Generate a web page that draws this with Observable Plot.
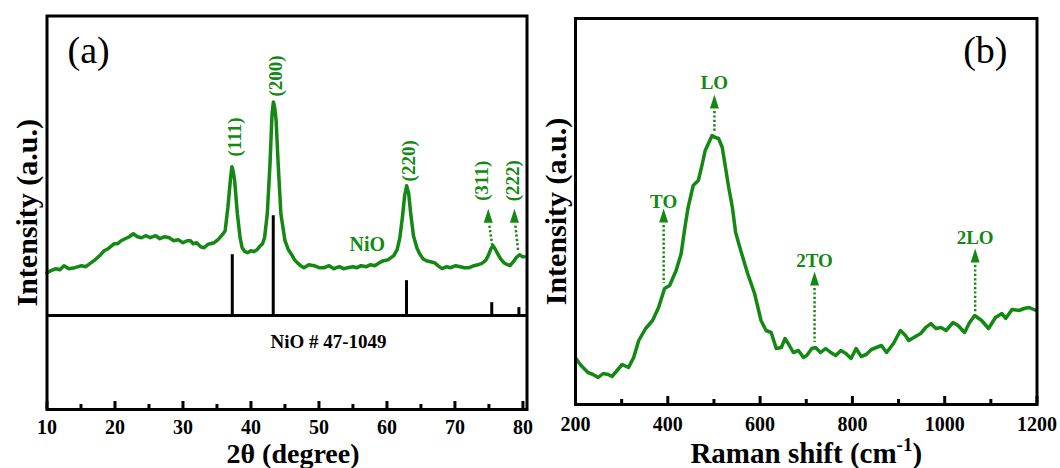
<!DOCTYPE html>
<html><head><meta charset="utf-8">
<script src="https://cdn.jsdelivr.net/npm/d3@7"></script>
<script src="https://cdn.jsdelivr.net/npm/@observablehq/plot@0.6"></script>
<style>
html,body{margin:0;padding:0;background:#fff;}
#wrap{position:relative;width:1060px;height:468px;overflow:hidden;}
#pa,#pb{position:absolute;top:0;width:530px;height:468px;}
#pa{left:0;} #pb{left:530px;}
</style></head><body>
<div id="wrap"><div id="pa"></div><div id="pb"></div></div>
<script>
// ---------- Panel (a): XRD ----------
const xrdTheta = [10.0,10.6,11.3,11.9,12.5,13.2,14.1,15.1,15.7,16.3,16.9,17.4,17.9,18.4,19.0,19.9,20.4,20.9,21.5,22.1,22.7,23.3,23.9,24.5,25.2,26.0,26.6,27.3,28.0,28.6,29.3,30.0,30.6,31.1,31.5,32.0,32.6,33.1,33.6,34.0,34.6,35.3,35.8,36.2,36.6,37.0,37.2,37.4,37.6,38.0,38.4,38.7,39.1,39.5,40.0,40.4,40.9,41.4,41.7,42.0,42.4,42.8,43.1,43.3,43.5,43.7,44.0,44.4,45.0,45.5,45.9,46.4,46.8,47.3,47.8,48.5,49.3,50.0,50.8,51.5,52.2,53.0,53.6,54.2,55.0,55.6,56.2,57.0,57.6,58.2,58.9,59.5,60.2,61.0,61.5,61.9,62.3,62.6,62.9,63.2,63.5,63.9,64.4,64.8,65.3,65.8,66.4,67.0,67.5,68.1,68.8,69.4,70.1,70.8,71.4,72.1,72.8,73.4,73.9,74.5,74.9,75.3,75.6,75.9,76.2,76.7,77.2,77.7,78.1,78.6,79.0,79.5,79.9,80.2];
const xrdIntensity = [43,45,47,46,50,47,48,50,49,52,55,58,61,65,67,72,72,75,77,79,82,79,78,80,78,80,77,79,78,75,76,73,75,75,72,73,69,68,71,72,73,77,81,85,108,138,149,144,135,102,78,68,64,63,65,64,66,70,72,78,102,152,202,214,208,195,152,102,75,66,62,56,53,50,48,51,50,48,48,50,47,49,47,48,49,48,50,49,51,50,53,55,56,60,66,78,100,120,130,122,102,80,68,62,57,55,54,53,50,47,49,48,50,49,48,48,50,51,52,55,60,67,70,67,63,57,53,51,50,54,58,61,59,59];

const refTheta = [37.249, 43.276, 62.879, 75.416, 79.409];   // NiO # 47-1049
const refIntensity = [61, 100, 35, 13, 8];

const hklLabels = ["(111)", "(200)", "(220)", "(311)", "(222)"];
const hklLabelTheta = [37.7, 43.6, 63.2, 74.0, 78.6];
const hklLabelY = [179, 240, 155, 135, 135];

const hklArrowTheta = [74.9, 78.75];
const hklArrowBase = [93, 93];
const hklDotTop = [[75.07, 90], [78.9, 90]];
const hklDotBottom = [[75.47, 71], [79.3, 65]];

const xrdTicksMajor = [10, 20, 30, 40, 50, 60, 70, 80];
const xrdTicksMinor = [15, 25, 35, 45, 55, 65, 75];

// ---------- Panel (b): Raman ----------
const ramanShift = [201,212,227,238,249,260,271,279,290,301,315,326,337,352,367,380,393,404,418,429,437,444,455,466,473,481,488,496,503,510,518,525,532,540,547,558,573,588,602,613,624,635,646,654,661,672,683,694,701,712,720,731,742,753,764,775,786,797,808,819,830,841,852,863,874,889,904,915,922,933,948,959,970,981,992,1003,1018,1029,1043,1054,1065,1080,1095,1110,1124,1132,1146,1161,1172,1183,1198];
const ramanIntensity = [46,39,32,30,27,31,30,28,34,40,37,47,64,76,84,97,116,119,134,151,177,197,219,224,237,254,261,269,267,266,257,237,217,197,172,154,131,111,84,74,72,56,57,66,61,52,54,47,49,56,57,52,56,52,49,54,51,46,56,48,50,55,57,59,52,61,74,69,64,67,71,77,81,76,77,74,82,79,72,82,89,84,76,87,91,86,95,94,96,97,94];

const modeLabels = ["TO", "LO", "2TO", "2LO"];
const modeShift = [391, 501, 718, 1066];
const modeLabelY = [203, 322, 144, 167];
const modeArrowBase = [182, 296, 119, 142];
const modeDotTop = [179, 293, 116, 139];
const modeDotBottom = [121, 271, 62, 92];

const ramanTicksMajor = [200, 400, 600, 800, 1000, 1200];
const ramanTicksMinor = [300, 500, 700, 900, 1100];

// ---------- shared styling ----------
const green = "#138913";
const font = "'Liberation Serif', 'Times New Roman', serif";
const arrowHead = {draw(ctx) { ctx.moveTo(0, -14); ctx.lineTo(4.5, 0); ctx.lineTo(-4.5, 0); ctx.closePath(); }};

// Panel (a)
const xrd = xrdTheta.map((t, i) => ({t, v: xrdIntensity[i]}));
const sticks = refTheta.map((t, i) => ({t, v: refIntensity[i]}));
const hkl = hklLabels.map((s, i) => ({s, t: hklLabelTheta[i], v: hklLabelY[i]}));
const hklHeads = hklArrowTheta.map((t, i) => ({t, v: hklArrowBase[i]}));
const hklDots = hklDotTop.map((p, i) => ({x1: p[0], y1: p[1], x2: hklDotBottom[i][0], y2: hklDotBottom[i][1]}));

const aTop = 15.5, aBottom = 59, aH = 468 - aTop - aBottom;
const plotA = Plot.plot({
  width: 530, height: 468,
  marginLeft: 46.5, marginRight: 3.5, marginTop: aTop, marginBottom: aBottom,
  x: {domain: [10, 80.6]},
  y: {domain: [-94, 300], axis: null},
  style: {fontFamily: font, background: "transparent", overflow: "visible", color: "#000"},
  marks: [
    Plot.ruleY([0], {strokeWidth: 3, stroke: "#000"}),
    Plot.ruleX(sticks, {x: "t", y1: 0, y2: "v", strokeWidth: 3, stroke: "#000"}),
    Plot.line(xrd, {x: "t", y: "v", stroke: green, strokeWidth: 3.5, strokeLinejoin: "round"}),
    Plot.link(hklDots, {x1: "x1", y1: "y1", x2: "x2", y2: "y2", stroke: green, strokeWidth: 2.5, strokeDasharray: "2.2,2.2"}),
    Plot.dot(hklHeads, {x: "t", y: "v", symbol: arrowHead, fill: green, stroke: null}),
    Plot.text(hkl, {x: "t", y: "v", text: "s", rotate: -90, fill: green, fontSize: 19, fontWeight: "bold", textAnchor: "middle", lineAnchor: "middle"}),
    Plot.text(["NiO"], {x: 57.1, y: 71, fill: green, fontSize: 20, fontWeight: "bold", lineAnchor: "middle"}),
    Plot.text(["NiO # 47-1049"], {x: 51.4, y: -26, fill: "#000", fontSize: 19, fontWeight: "bold", lineAnchor: "middle"}),
    Plot.tickX(xrdTicksMajor, {x: d => d, insetTop: aH - 8, strokeWidth: 3, stroke: "#000"}),
    Plot.tickX(xrdTicksMinor, {x: d => d, insetTop: aH - 5, strokeWidth: 3, stroke: "#000"}),
    Plot.axisX(xrdTicksMajor, {tickSize: 0, tickPadding: 10, fontSize: 20, fontWeight: "bold", label: null, tickFormat: d => String(d)}),
    Plot.frame({strokeWidth: 3, stroke: "#000"}),
    Plot.text(["2θ (degree)"], {frameAnchor: "bottom", dx: 6, dy: 45, fontSize: 28, fontWeight: "bold", lineAnchor: "middle"}),
    Plot.text(["Intensity (a.u.)"], {frameAnchor: "left", dx: -20, rotate: -90, fontSize: 30, fontWeight: "bold", textAnchor: "middle", lineAnchor: "middle"}),
    Plot.text(["(a)"], {frameAnchor: "top-left", dx: 20.5, dy: 20.5, fontSize: 38, fontWeight: "normal", textAnchor: "start", lineAnchor: "top"})
  ]
});
document.getElementById("pa").appendChild(plotA);

// Panel (b)
const raman = ramanShift.map((s, i) => ({s, v: ramanIntensity[i]}));
const modes = modeLabels.map((m, i) => ({m, s: modeShift[i], v: modeLabelY[i], base: modeArrowBase[i], top: modeDotTop[i], bottom: modeDotBottom[i]}));

const bTop = 18, bBottom = 64, bH = 468 - bTop - bBottom;
const plotB = Plot.plot({
  width: 530, height: 468,
  marginLeft: 45, marginRight: 23.5, marginTop: bTop, marginBottom: bBottom,
  x: {domain: [200, 1200]},
  y: {domain: [0, 386], axis: null},
  style: {fontFamily: font, background: "transparent", overflow: "visible", color: "#000"},
  marks: [
    Plot.line(raman, {x: "s", y: "v", stroke: green, strokeWidth: 3.5, strokeLinejoin: "round"}),
    Plot.ruleX(modes, {x: "s", y1: "top", y2: "bottom", stroke: green, strokeWidth: 2.5, strokeDasharray: "2.2,2.2"}),
    Plot.dot(modes, {x: "s", y: "base", symbol: arrowHead, fill: green, stroke: null}),
    Plot.text(modes, {x: "s", y: "v", text: "m", fill: green, fontSize: 19, fontWeight: "bold", lineAnchor: "middle"}),
    Plot.tickX(ramanTicksMajor, {x: d => d, insetTop: bH - 8, strokeWidth: 3, stroke: "#000"}),
    Plot.tickX(ramanTicksMinor, {x: d => d, insetTop: bH - 5, strokeWidth: 3, stroke: "#000"}),
    Plot.axisX(ramanTicksMajor, {tickSize: 0, tickPadding: 12, fontSize: 20, fontWeight: "bold", label: null, tickFormat: d => String(d)}),
    Plot.frame({strokeWidth: 3, stroke: "#000"}),
    Plot.text(["Raman shift (cm-1)"], {frameAnchor: "bottom", dy: 49.5, fontSize: 29, fontWeight: "bold", lineAnchor: "middle"}),
    Plot.text(["Intensity (a.u.)"], {frameAnchor: "left", dx: -19.6, rotate: -90, fontSize: 30, fontWeight: "bold", textAnchor: "middle", lineAnchor: "middle"}),
    Plot.text(["(b)"], {frameAnchor: "top-right", dx: -29.5, dy: 18, fontSize: 38, fontWeight: "normal", textAnchor: "end", lineAnchor: "top"})
  ]
});
document.getElementById("pb").appendChild(plotB);

// superscript for cm-1
plotB.querySelectorAll("text").forEach(t => {
  if (t.textContent === "Raman shift (cm-1)") {
    t.textContent = "";
    const ns = "http://www.w3.org/2000/svg";
    const a = document.createElementNS(ns, "tspan"); a.textContent = "Raman shift (cm";
    const s = document.createElementNS(ns, "tspan"); s.textContent = "-1"; s.setAttribute("dy", "-12"); s.setAttribute("font-size", "19");
    const c = document.createElementNS(ns, "tspan"); c.textContent = ")"; c.setAttribute("dy", "12");
    t.append(a, s, c);
  }
});
</script></body></html>
